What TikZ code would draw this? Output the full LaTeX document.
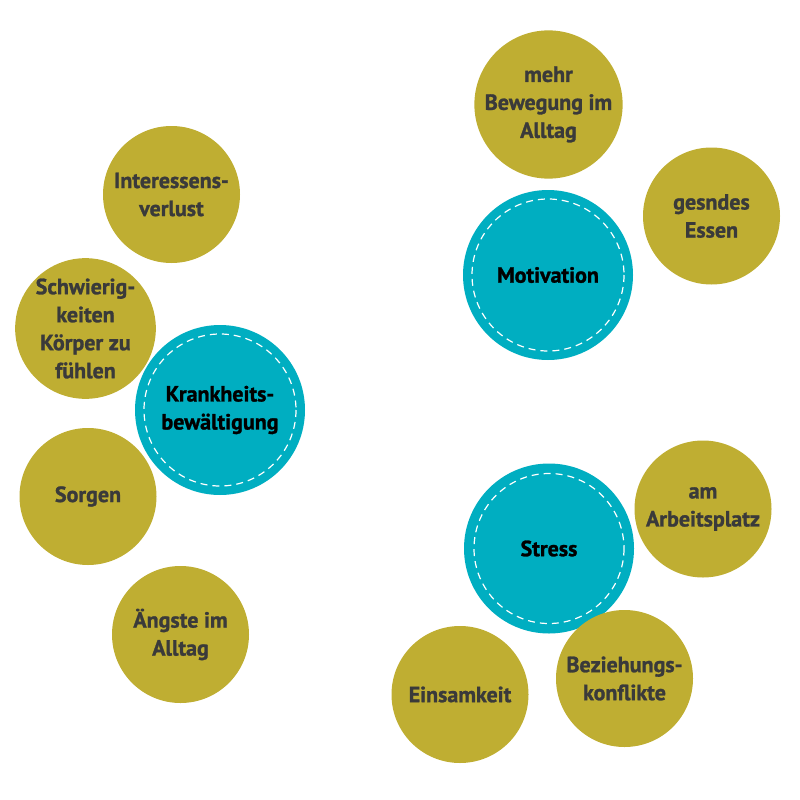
\documentclass[tikz,border=0pt]{standalone}
\usepackage{fontspec}
\setmainfont{PT Sans}[BoldFeatures={FakeBold=1.2}]
\definecolor{olive}{RGB}{191,174,50}
\definecolor{teal}{RGB}{0,174,193}
\definecolor{darktext}{RGB}{58,58,58}
\tikzset{
  sub/.style={circle, fill=olive, draw=none, minimum size=137pt, inner sep=0pt,
    align=center, text=darktext, font=\bfseries\fontsize{22}{28}\selectfont},
  hub/.style={circle, fill=teal, draw=none, minimum size=170pt, inner sep=0pt,
    align=center, text=black, font=\bfseries\fontsize{22}{28}\selectfont},
  stitch/.style={draw=white, line width=1.2pt, dash pattern=on 7pt off 5pt}
}
\begin{document}
\begin{tikzpicture}[x=1pt,y=-1pt]
\useasboundingbox (0,0) rectangle (800,800);
% Motivation group
\node[sub] (bew) at (548.5,104.5) {mehr\\Bewegung im\\Alltag};
\node[sub] (ess) at (711.5,216) {gesndes\\Essen};
\node[hub] (mot) at (548,275) {Motivation};
\draw[stitch] (mot.center) circle[radius=76];
% Krankheitsbewaeltigung group
\node[sub] (int) at (171.5,194.5) {Interessens-\\verlust};
\node[sub] (sch) at (85.5,328.5) {Schwierig-\\keiten\\Körper zu\\fühlen};
\node[sub] (sor) at (88,496.5) {Sorgen};
\node[sub] (aen) at (180.5,634.5) {Ängste im\\Alltag};
\node[hub] (kra) at (220,410) {Krankheits-\\bewältigung};
\draw[stitch] (kra.center) circle[radius=76];
% Stress group
\node[hub] (str) at (549,548.5) {Stress};
\draw[stitch] (str.center) circle[radius=75];
\node[sub] (arb) at (703,509) {am\\Arbeitsplatz};
\node[sub] (bez) at (624.5,678.5) {Beziehungs-\\konflikte};
\node[sub] (ein) at (460,694.5) {Einsamkeit};
\end{tikzpicture}
\end{document}
